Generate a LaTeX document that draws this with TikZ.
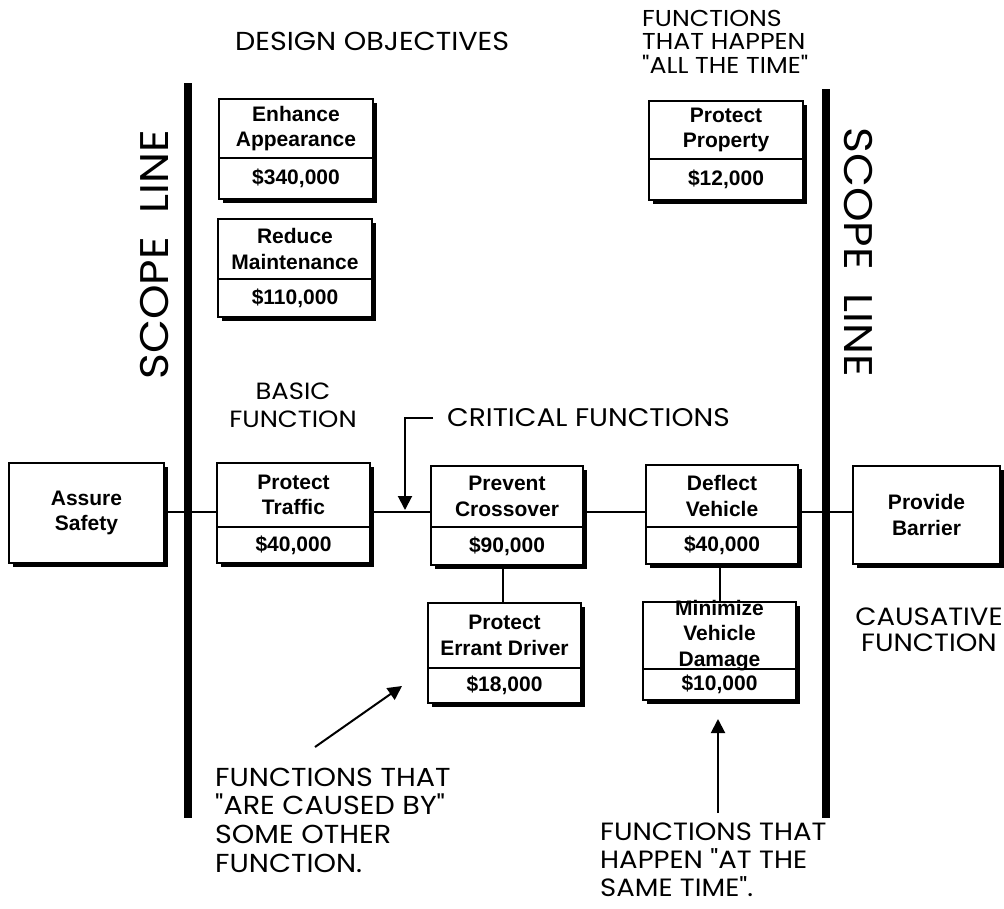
\documentclass[tikz,border=0pt]{standalone}
\usepackage{fontspec}
\setmainfont{Liberation Sans}
\newfontfamily\hand{Poppins}[FakeStretch=1.1]
\usetikzlibrary{arrows.meta,shadows,calc}
\tikzset{
  fbox/.style={draw,line width=1.6pt,fill=white,inner sep=0pt,
    drop shadow={shadow xshift=4pt,shadow yshift=-4pt,fill=black,opacity=1}},
  btext/.style={inner sep=0pt,align=center,font=\bfseries\fontsize{21}{25.5}\selectfont},
  hw/.style={inner sep=0pt,align=left},
  conn/.style={line width=2pt},
  scopeline/.style={line width=8pt},
  arr/.style={line width=2pt,-{Triangle[length=14pt,width=14pt]}},
}
\newcommand\funcbox[8]{%
  \node[fbox,minimum width={#4-#2},minimum height={#5-#3}] (#1) at ({(#2+#4)/2},{(#3+#5)/2}) {};
  \draw[line width=1.6pt] (#1.west |- 0,#6) -- (#1.east |- 0,#6);
  \node[btext] (#1t) at ({(#2+#4)/2},{(#3+#6)/2}) {#7};
  \node[btext] (#1c) at ({(#2+#4)/2},{(#6+#5)/2}) {#8};
}
\begin{document}
\begin{tikzpicture}[x=1pt,y=-1pt]
\useasboundingbox (0,0) rectangle (1004,908);
% scope lines
\draw[scopeline] (188,83) -- (188,818);
\draw[scopeline] (826,89) -- (826,818);
\node[hw,rotate=90,font=\hand\fontsize{40}{40}\selectfont] (sl1) at (155,255) {SCOPE\ \ LINE};
\node[hw,rotate=-90,font=\hand\fontsize{40}{40}\selectfont] (sl2) at (858,252) {SCOPE\ \ LINE};
% single boxes
\node[fbox,minimum width=155,minimum height=100] (AS) at (86.5,513) {};
\node[btext] at (AS) {Assure\\Safety};
\node[fbox,minimum width=147,minimum height=98] (PB) at (926.5,515) {};
\node[btext] at (PB) {Provide\\Barrier};
% function boxes
\funcbox{EA}{219}{99}{373}{199}{158}{Enhance\\Appearance}{\$340,000}
\funcbox{RM}{218}{219}{372}{317}{279}{Reduce\\Maintenance}{\$110,000}
\funcbox{PP}{649}{101}{803}{200}{159}{Protect\\Property}{\$12,000}
\funcbox{PT}{217}{463}{370}{563}{527}{Protect\\Traffic}{\$40,000}
\funcbox{PC}{431}{466}{583}{565}{527}{Prevent\\Crossover}{\$90,000}
\funcbox{DV}{646}{465}{798}{564}{527}{Deflect\\Vehicle}{\$40,000}
\funcbox{PE}{428}{603}{581}{703}{668}{Protect\\Errant Driver}{\$18,000}
\funcbox{MD}{643}{602}{796}{700}{669}{\fontsize{21}{23}\selectfont Minimize\\Vehicle\\Damage}{\$10,000}
% connectors
\draw[conn] (AS.east |- 0,512) -- (PT.west |- 0,512);
\draw[conn] (PT.east |- 0,512) -- (PC.west |- 0,512);
\draw[conn] (PC.east |- 0,512) -- (DV.west |- 0,512);
\draw[conn] (DV.east |- 0,512) -- (PB.west |- 0,512);
\draw[conn] (PC.south -| 503,0) -- (PE.north -| 503,0);
\draw[conn] (DV.south -| 720,0) -- (MD.north -| 720,0);
% labels
\node[hw,anchor=west,font=\hand\fontsize{26}{30}\selectfont] (desobj) at (235,41) {DESIGN OBJECTIVES};
\node[hw,anchor=west,font=\hand\fontsize{23}{23.5}\selectfont] (allt) at (642,41.5) {FUNCTIONS\\THAT HAPPEN\\"ALL THE TIME"};
\node[hw,align=center,font=\hand\fontsize{23.5}{28}\selectfont] (basic) at (293,405) {BASIC\\FUNCTION};
\node[hw,anchor=west,font=\hand\fontsize{25.5}{30}\selectfont] (crit) at (447,418) {CRITICAL FUNCTIONS};
\node[hw,align=center,font=\hand\fontsize{25}{26}\selectfont] (caus) at (929,630) {CAUSATIVE\\FUNCTION};
\node[hw,anchor=west,font=\hand\fontsize{26}{28.7}\selectfont] (causedby) at (215,820) {FUNCTIONS THAT\\"ARE CAUSED BY"\\SOME OTHER\\FUNCTION.};
\node[hw,anchor=west,font=\hand\fontsize{25}{28}\selectfont] (same) at (600,860) {FUNCTIONS THAT\\HAPPEN "AT THE\\SAME TIME".};
% arrows
\coordinate (critend) at (405,510);
\draw[arr] ($(crit.west)+(-14,0)$) -| (critend);
\coordinate (a1s) at (315,747);
\coordinate (a1e) at (402,686);
\draw[arr] (a1s) -- (a1e);
\coordinate (a2s) at (718,813);
\coordinate (a2e) at (718,719);
\draw[arr] (a2s) -- (a2e);
\end{tikzpicture}
\end{document}
